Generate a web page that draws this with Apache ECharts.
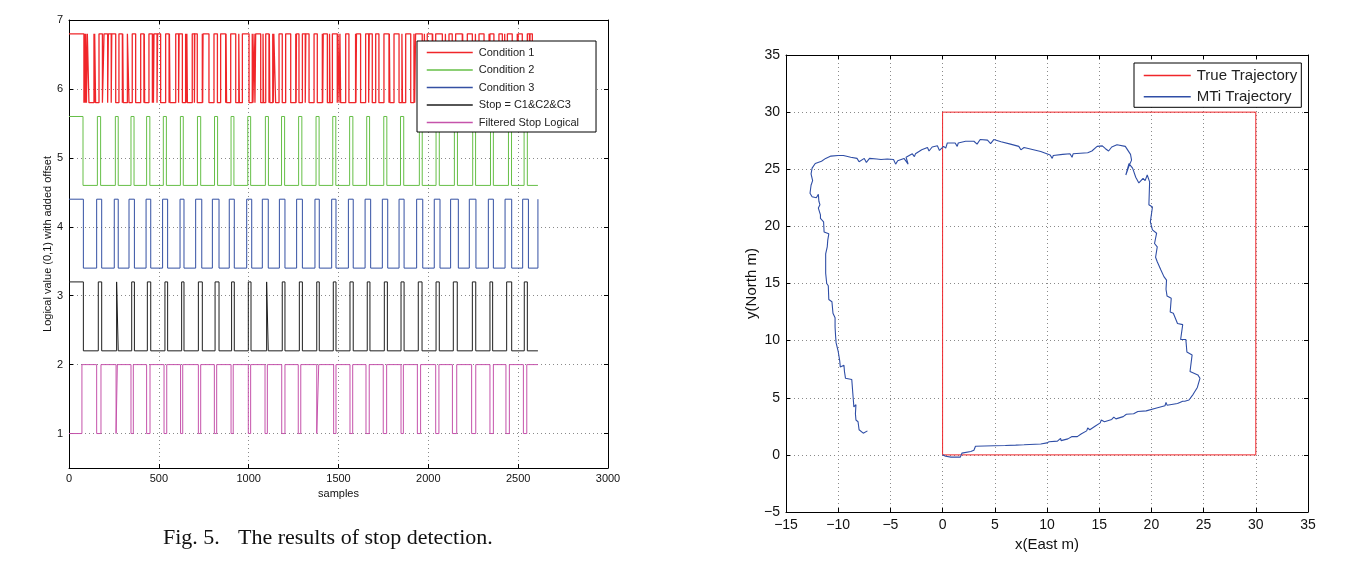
<!DOCTYPE html>
<html>
<head>
<meta charset="utf-8">
<script src="https://cdn.jsdelivr.net/npm/echarts@6/dist/echarts.min.js"></script>
<style>
html,body{margin:0;padding:0;background:#fff;}
#c{width:1351px;height:570px;}
</style>
</head>
<body>
<div id="c"></div>
<script>
// ---------- Left panel data (stop detection) ----------
const sampleTicks = [0, 500, 1000, 1500, 2000, 2500, 3000];
const logicTicks = [1, 2, 3, 4, 5, 6, 7];
const seriesNames = ['Condition 1', 'Condition 2', 'Condition 3', 'Stop = C1&C2&C3', 'Filtered Stop Logical'];
const seriesOffsets = [5.8, 4.6, 3.4, 2.2, 1.0];
const seriesStartValue = [1, 1, 1, 1, 0];
const lastSample = 2610;

const c1Toggles = [83, 86, 90, 93, 97, 102, 111, 139, 141, 143, 148, 167, 186, 195, 215, 219, 235, 238, 260, 278, 297, 299, 302, 325, 334, 352, 371, 399, 417, 419, 421, 445, 464, 467, 470, 473, 490, 493, 510, 538, 557, 559, 562, 594, 610, 613, 631, 649, 653, 656, 659, 686, 698, 700, 714, 742, 744, 746, 779, 807, 826, 844, 872, 874, 877, 900, 928, 945, 948, 965, 1002, 1020, 1024, 1030, 1035, 1039, 1067, 1080, 1083, 1095, 1113, 1115, 1118, 1134, 1137, 1140, 1150, 1169, 1187, 1206, 1234, 1262, 1264, 1266, 1280, 1299, 1315, 1318, 1336, 1364, 1382, 1410, 1412, 1415, 1438, 1450, 1453, 1466, 1493, 1497, 1503, 1508, 1512, 1540, 1558, 1595, 1597, 1600, 1623, 1651, 1668, 1671, 1688, 1707, 1725, 1753, 1781, 1783, 1786, 1809, 1837, 1853, 1856, 1874, 1902, 1920, 1924, 1929, 1966, 1978, 1981, 1994, 2022, 2024, 2027, 2041, 2078, 2095, 2098, 2115, 2133, 2152, 2189, 2191, 2194, 2217, 2245, 2262, 2265, 2282, 2310, 2338, 2340, 2343, 2365, 2393, 2412, 2425, 2428, 2440, 2467, 2495, 2497, 2500, 2523, 2551, 2563, 2566, 2579];
const c2Toggles = [78, 158, 176, 258, 274, 345, 362, 432, 450, 525, 542, 620, 636, 715, 733, 810, 827, 902, 918, 995, 1011, 1093, 1110, 1183, 1200, 1278, 1296, 1375, 1392, 1468, 1485, 1562, 1580, 1657, 1673, 1752, 1769, 1845, 1863, 1950, 1966, 2043, 2061, 2145, 2162, 2247, 2263, 2346, 2362, 2446, 2463, 2533, 2551];
const c3Toggles = [80, 154, 182, 252, 274, 334, 364, 429, 455, 521, 549, 618, 640, 705, 739, 798, 835, 892, 920, 989, 1017, 1076, 1109, 1171, 1202, 1267, 1299, 1369, 1393, 1462, 1486, 1555, 1582, 1648, 1679, 1744, 1774, 1837, 1865, 1935, 1969, 2033, 2065, 2124, 2167, 2228, 2265, 2334, 2362, 2427, 2464, 2525, 2557, 2610];
const stopToggles = [80, 163, 182, 265, 274, 349, 364, 436, 455, 534, 549, 627, 640, 720, 742, 813, 835, 905, 920, 998, 1013, 1100, 1109, 1187, 1202, 1282, 1299, 1379, 1393, 1471, 1486, 1564, 1582, 1660, 1675, 1755, 1772, 1848, 1865, 1944, 1965, 2043, 2061, 2139, 2161, 2245, 2264, 2343, 2358, 2436, 2464, 2534, 2551];
const filteredToggles = [72, 154, 178, 262, 269, 345, 358, 432, 451, 529, 544, 621, 633, 720, 733, 809, 822, 902, 914, 998, 1011, 1091, 1104, 1184, 1202, 1276, 1290, 1379, 1390, 1473, 1486, 1564, 1579, 1653, 1671, 1749, 1768, 1848, 1861, 1939, 1957, 2041, 2059, 2134, 2158, 2241, 2264, 2343, 2362, 2432, 2451, 2529, 2548];
const allToggles = [c1Toggles, c2Toggles, c3Toggles, stopToggles, filteredToggles];
const seriesColors = ['#f0262a', '#66bf47', '#3450a3', '#1e1e1e', '#c553ab'];
const seriesWidths = [1.3, 1, 1, 1, 1];

// ---------- Right panel data (trajectories) ----------
const eastTicks = [-15, -10, -5, 0, 5, 10, 15, 20, 25, 30, 35];
const northTicks = [-5, 0, 5, 10, 15, 20, 25, 30, 35];
const trueTrajectory = [[0, 0], [30, 0], [30, 30], [0, 30], [0, 0]];
const mtiTrajectory = [
 [0,0],[0.3,-0.12],[0.8,-0.2],[1.7,-0.2],[1.85,0.15],[2.7,0.3],[3.0,0.4],[3.15,0.75],[4.9,0.8],[6.0,0.82],[7.0,0.85],[7.1,1.0],[7.15,0.86],[7.8,0.88],[9.4,0.95],[10,1.05],[10.2,1.15],[11,1.2],[11.3,1.45],[11.35,1.25],[12,1.4],[12.4,1.6],[12.5,1.45],[12.9,1.6],[13.3,1.85],[13.8,2.1],[13.9,2.35],[14.1,2.2],[14.6,2.5],[15.1,2.8],[15.2,3.05],[15.5,2.9],[16.2,3.1],[16.4,3.3],[16.6,3.15],[17.3,3.35],[17.6,3.55],[17.7,3.4],[18.3,3.6],[18.7,3.8],[18.8,3.65],[19.5,3.85],[20.5,4.1],[21.3,4.3],[21.4,4.6],[21.5,4.35],[22.5,4.5],[23,4.7],[23.1,4.85],[23.2,4.7],[23.6,4.8],[24.0,5.3],[24.4,5.9],[24.65,6.7],[24.45,7.0],[23.7,7.3],[23.9,8.75],[23.4,9.0],[23.3,10.1],[22.8,10.1],[23.0,11.4],[22.5,11.5],[22.1,12.4],[21.8,12.5],[21.9,13.7],[21.5,13.9],[21.4,14.5],[21.45,15.3],[21.2,15.6],[20.9,16.2],[20.56,16.9],[20.4,17.3],[20.56,18.2],[20.3,18.5],[20.5,19.4],[20.1,19.7],[19.9,20.4],[20.1,21.7],[19.76,21.9],[19.83,23.9],[19.6,24.5],[19.4,24.0],[19.2,24.2],[18.8,23.8],[18.5,24.3],[18.2,25.1],[17.85,25.5],[17.55,24.5],[17.9,25.4],[18.1,25.8],[18.0,26.3],[17.5,27.0],[16.7,27.15],[16.2,26.95],[15.9,26.6],[15.6,26.8],[15.3,27.05],[14.8,27.0],[14.3,26.6],[13.9,26.45],[13.2,26.4],[12.5,26.35],[12.4,26.05],[12.2,26.35],[11.5,26.3],[10.6,26.2],[10.5,25.95],[10.3,26.25],[9.4,26.55],[8.5,26.75],[7.8,26.9],[7.5,26.7],[7.3,27.0],[6.5,27.2],[5.6,27.4],[4.9,27.6],[4.6,27.25],[4.3,27.55],[3.6,27.6],[3.3,27.2],[3.0,27.45],[2.2,27.45],[1.5,27.3],[1.4,27.0],[1.2,27.3],[0.45,27.3],[0.3,26.85],[0.1,27.0],[-0.3,26.65],[-0.5,27.05],[-1.0,26.95],[-1.3,26.6],[-1.45,26.9],[-2.0,26.7],[-2.6,26.35],[-2.7,26.1],[-2.9,26.35],[-3.5,26.05],[-3.3,25.45],[-3.7,25.95],[-4.3,25.75],[-4.5,25.45],[-4.7,25.85],[-5.3,25.9],[-5.9,25.85],[-6.3,25.9],[-7.0,25.95],[-7.3,25.6],[-7.5,25.95],[-8.0,25.65],[-8.2,25.95],[-8.8,26.05],[-9.5,26.2],[-10.0,26.2],[-10.7,26.15],[-11.2,25.95],[-11.6,25.7],[-12.2,25.5],[-12.5,25.1],[-12.6,24.6],[-12.45,24.0],[-12.6,23.6],[-12.7,22.9],[-12.5,22.6],[-12.1,22.5],[-11.9,22.8],[-11.85,22.2],[-11.75,21.9],[-11.9,21.6],[-11.7,21.0],[-11.7,20.7],[-11.4,20.4],[-11.35,19.5],[-10.9,19.35],[-11.0,18.8],[-11.05,18.2],[-11.2,17.6],[-11.2,16.5],[-11.2,15.9],[-11.1,15.0],[-10.95,14.8],[-10.9,13.6],[-10.6,13.4],[-10.5,12.4],[-10.3,12.0],[-10.3,11.2],[-10.25,10.4],[-10.2,9.8],[-10.0,9.05],[-9.85,9.1],[-9.85,8.2],[-9.8,7.7],[-9.45,7.85],[-9.4,7.3],[-9.3,6.7],[-8.7,6.6],[-8.6,5.4],[-8.55,4.8],[-8.5,4.2],[-8.3,4.4],[-8.35,3.6],[-8.3,3.05],[-8.1,2.9],[-8.0,2.2],[-7.6,1.9],[-7.2,2.1]
];

// ---------- build ----------
function stepPoints(toggles, startVal, offset) {
  let v = startVal;
  const pts = [[0, offset + v]];
  toggles.forEach(function (t) {
    pts.push([t, offset + v]);
    v = 1 - v;
    pts.push([t, offset + v]);
  });
  pts.push([lastSample, offset + v]);
  return pts;
}
const sans = 'Liberation Sans, Arial, Helvetica, sans-serif';
const serif = 'Liberation Serif, Times New Roman, serif';
const minus = function (v) { return String(v).replace('-', '\u2212'); };
const plain = function (v) { return String(v); };
const grid = { color: '#8a8a8a', width: 1, type: [1, 3] };

function axisBase(extra) {
  return Object.assign({
    type: 'value',
    axisLine: { show: true, onZero: false, lineStyle: { color: '#000', width: 1 } },
    axisTick: { show: true, inside: true, length: 4, lineStyle: { color: '#000' } },
  }, extra);
}

const leftSeries = seriesNames.map(function (name, i) {
  return {
    name: name, type: 'line', xAxisIndex: 0, yAxisIndex: 0,
    symbol: 'none', showSymbol: false, animation: false,
    lineStyle: { color: seriesColors[i], width: seriesWidths[i] }, itemStyle: { color: seriesColors[i] },
    data: stepPoints(allToggles[i], seriesStartValue[i], seriesOffsets[i])
  };
});

const option = {
  animation: false,
  backgroundColor: '#fff',
  title: [
    { text: 'Fig. 5.', left: 163, top: 527, padding: 0,
      textStyle: { fontFamily: serif, fontSize: 22, fontWeight: 'normal', color: '#111' } },
    { text: 'The results of stop detection.', left: 238, top: 527, padding: 0,
      textStyle: { fontFamily: serif, fontSize: 22, fontWeight: 'normal', color: '#111' } }
  ],
  grid: [
    { left: 69, top: 20, width: 539, height: 448, show: false },
    { left: 786, top: 55, width: 522, height: 457, show: false }
  ],
  xAxis: [
    axisBase({ gridIndex: 0, position: 'bottom', min: 0, max: 3000, interval: 500,
      axisLabel: { fontSize: 11, color: '#111', margin: 5, fontFamily: sans, formatter: plain },
      splitLine: { show: true, lineStyle: grid },
      name: 'samples', nameLocation: 'middle', nameGap: 17,
      nameTextStyle: { fontSize: 11, color: '#111', fontFamily: sans } }),
    axisBase({ gridIndex: 0, position: 'top', min: 0, max: 3000, interval: 500,
      axisLabel: { show: false }, splitLine: { show: false } }),
    axisBase({ gridIndex: 1, position: 'bottom', min: -15, max: 35, interval: 5,
      axisLabel: { fontSize: 14, color: '#111', margin: 6, fontFamily: sans, formatter: minus },
      splitLine: { show: true, lineStyle: grid },
      name: 'x(East m)', nameLocation: 'middle', nameGap: 25,
      nameTextStyle: { fontSize: 15, color: '#111', fontFamily: sans } }),
    axisBase({ gridIndex: 1, position: 'top', min: -15, max: 35, interval: 5,
      axisLabel: { show: false }, splitLine: { show: false } })
  ],
  yAxis: [
    axisBase({ gridIndex: 0, position: 'left', min: 0.5, max: 7, interval: 0.5,
      axisLabel: { fontSize: 11, color: '#111', margin: 6, fontFamily: sans, customValues: logicTicks },
      axisTick: { show: true, inside: true, length: 4, lineStyle: { color: '#000' }, customValues: logicTicks },
      splitLine: { show: true, lineStyle: grid },
      name: 'Logical value (0,1) with added offset', nameLocation: 'middle', nameGap: 16,
      nameTextStyle: { fontSize: 11, color: '#111', fontFamily: sans } }),
    axisBase({ gridIndex: 0, position: 'right', min: 0.5, max: 7, interval: 0.5,
      axisTick: { show: true, inside: true, length: 4, lineStyle: { color: '#000' }, customValues: logicTicks },
      axisLabel: { show: false }, splitLine: { show: false } }),
    axisBase({ gridIndex: 1, position: 'left', min: -5, max: 35, interval: 5,
      axisLabel: { fontSize: 14, color: '#111', margin: 6, fontFamily: sans, formatter: minus },
      splitLine: { show: true, lineStyle: grid },
      name: 'y(North m)', nameLocation: 'middle', nameGap: 27,
      nameTextStyle: { fontSize: 15, color: '#111', fontFamily: sans } }),
    axisBase({ gridIndex: 1, position: 'right', min: -5, max: 35, interval: 5,
      axisLabel: { show: false }, splitLine: { show: false } })
  ],
  legend: [
    {
      data: seriesNames, orient: 'vertical', left: 417, top: 41,
      itemWidth: 46, itemHeight: 10, itemGap: 6.5,
      padding: [6, 17, 4, 9],
      backgroundColor: '#fff', borderColor: '#000', borderWidth: 1, borderRadius: 0,
      itemStyle: { opacity: 0 }, lineStyle: { width: 1.5 },
      textStyle: { fontSize: 11, color: '#222', fontFamily: sans, padding: [0, 0, 0, 1] },
      selectedMode: false
    },
    {
      data: ['True Trajectory', 'MTi Trajectory'], orient: 'vertical', left: 1134, top: 63,
      itemWidth: 47, itemHeight: 14, itemGap: 6.3,
      padding: [5, 4, 3, 9],
      backgroundColor: '#fff', borderColor: '#000', borderWidth: 1, borderRadius: 0,
      itemStyle: { opacity: 0 }, lineStyle: { width: 1.5 },
      textStyle: { fontSize: 15, color: '#222', fontFamily: sans, padding: [0, 0, 0, 1] },
      selectedMode: false
    }
  ],
  series: leftSeries.concat([
    { name: 'True Trajectory', type: 'line', xAxisIndex: 2, yAxisIndex: 2, symbol: 'none', showSymbol: false,
      lineStyle: { color: '#f0262a', width: 1 }, itemStyle: { color: '#f0262a' }, data: trueTrajectory },
    { name: 'MTi Trajectory', type: 'line', xAxisIndex: 2, yAxisIndex: 2, symbol: 'none', showSymbol: false,
      lineStyle: { color: '#2f4ea6', width: 1.1 }, itemStyle: { color: '#2f4ea6' }, data: mtiTrajectory }
  ])
};

const chart = echarts.init(document.getElementById('c'), null, { renderer: 'canvas' });
chart.setOption(option);
</script>
</body>
</html>
